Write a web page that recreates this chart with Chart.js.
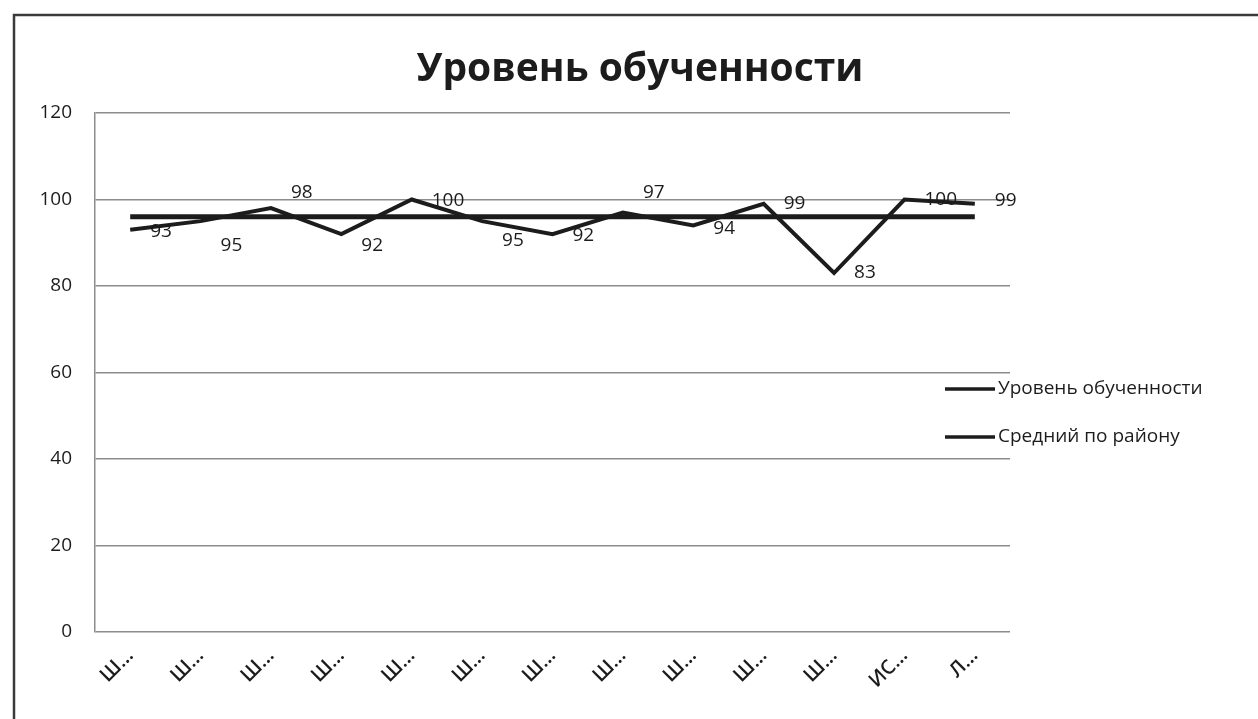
<!DOCTYPE html>
<html>
<head>
<meta charset="utf-8">
<script src="https://cdn.jsdelivr.net/npm/chart.js@4.4.1/dist/chart.umd.min.js"></script>
<style>
  html, body { margin: 0; padding: 0; background: #fff; }
  #wrap { width: 1258px; height: 719px; position: relative; }
</style>
</head>
<body>
<div id="wrap"><canvas id="LevelChart" width="1258" height="719"></canvas></div>
<script>
// Categories (names truncated as in the original)
const CATEGORIES = ["Ш…", "Ш…", "Ш…", "Ш…", "Ш…", "Ш…", "Ш…", "Ш…", "Ш…", "Ш…", "Ш…", "ИС…", "Л…"];

// Уровень обученности, %
const LEVEL_VALUES = [93, 95, 98, 92, 100, 95, 92, 97, 94, 99, 83, 100, 99];

// Средний по району
const DISTRICT_AVG = [96, 96, 96, 96, 96, 96, 96, 96, 96, 96, 96, 96, 96];

const SERIES_NAMES = ["Уровень обученности", "Средний по району"];
const CHART_TITLE = "Уровень обученности";

const Y_MIN = 0;
const Y_MAX = 120;
const Y_STEP = 20;

const FONT = "'Open Sans', 'Noto Sans', sans-serif";
const INK = "#1c1c1c";

// outer frame of the chart object and the title centred on the page
const framePlugin = {
  id: "frame",
  beforeDraw(chart) {
    const ctx = chart.ctx;
    ctx.save();
    ctx.fillStyle = "#fff";
    ctx.fillRect(0, 0, chart.width, chart.height);
    ctx.strokeStyle = "#3a3a3a";
    ctx.lineWidth = 2.5;
    ctx.beginPath();
    ctx.moveTo(14, chart.height + 5);
    ctx.lineTo(14, 15);
    ctx.lineTo(chart.width + 5, 15);
    ctx.stroke();

    ctx.font = "bold 39px " + FONT;
    ctx.fillStyle = INK;
    ctx.textAlign = "center";
    ctx.textBaseline = "middle";
    ctx.fillText(CHART_TITLE, 640, 70);
    ctx.restore();
  },
};

// value labels to the right of the points of the first series
const valueLabels = {
  id: "valueLabels",
  afterDatasetsDraw(chart, args, opts) {
    const ctx = chart.ctx;
    const meta = chart.getDatasetMeta(0);
    const data = chart.data.datasets[0].data;
    ctx.save();
    ctx.font = "19px " + FONT;
    ctx.fillStyle = INK;
    ctx.textBaseline = "middle";
    ctx.textAlign = "left";
    meta.data.forEach((pt, i) => {
      const dy = opts.nudge[i] || 0;
      ctx.fillText(String(data[i]), pt.x + opts.dx, pt.y + dy);
    });
    ctx.restore();
  },
};

// legend placed over the right edge of the plot, like the original
const sideLegend = {
  id: "sideLegend",
  afterDraw(chart, args, opts) {
    const ctx = chart.ctx;
    ctx.save();
    ctx.font = "19px " + FONT;
    ctx.fillStyle = INK;
    ctx.textBaseline = "middle";
    chart.data.datasets.forEach((ds, i) => {
      const y = opts.top + i * opts.gap;
      ctx.strokeStyle = ds.borderColor;
      ctx.lineWidth = 3.5;
      ctx.beginPath();
      ctx.moveTo(opts.left, y);
      ctx.lineTo(opts.left + 50, y);
      ctx.stroke();
      ctx.fillText(ds.label, opts.left + 53, y);
    });
    ctx.restore();
  },
};

const chart = new Chart(document.getElementById("LevelChart"), {
  type: "line",
  data: {
    labels: CATEGORIES,
    datasets: [
      {
        label: SERIES_NAMES[0],
        data: LEVEL_VALUES,
        borderColor: INK,
        borderWidth: 4,
        pointRadius: 0,
        tension: 0,
        fill: false,
      },
      {
        label: SERIES_NAMES[1],
        data: DISTRICT_AVG,
        borderColor: INK,
        borderWidth: 5,
        pointRadius: 0,
        tension: 0,
        fill: false,
      },
    ],
  },
  options: {
    responsive: false,
    animation: false,
    layout: {
      padding: { left: 12, right: 248, top: 113, bottom: 0 },
    },
    plugins: {
      legend: { display: false },
      tooltip: { enabled: false },
      title: { display: false },
      valueLabels: {
        dx: 20,
        nudge: [2, 24, -16, 11, 1, 19, 1, -20, 3, 0, 0, 0, -3],
      },
      sideLegend: { left: 945, top: 389, gap: 48 },
    },
    scales: {
      x: {
        offset: true,
        grid: { display: false, drawTicks: false },
        border: { display: false },
        ticks: {
          color: INK,
          font: { family: FONT, size: 20, weight: "600" },
          minRotation: 45,
          maxRotation: 45,
          padding: 12,
          autoSkip: false,
        },
        afterFit(scale) {
          scale.height = 87;
        },
      },
      y: {
        min: Y_MIN,
        max: Y_MAX,
        grid: { color: "#8c8c8c", lineWidth: 1.5, drawTicks: false },
        border: { display: true, color: "#8c8c8c", width: 1.5 },
        ticks: {
          stepSize: Y_STEP,
          color: INK,
          font: { family: FONT, size: 19 },
          padding: 23,
        },
        afterFit(scale) {
          scale.width = 83;
        },
      },
    },
  },
  plugins: [framePlugin, valueLabels, sideLegend],
});
</script>
</body>
</html>
